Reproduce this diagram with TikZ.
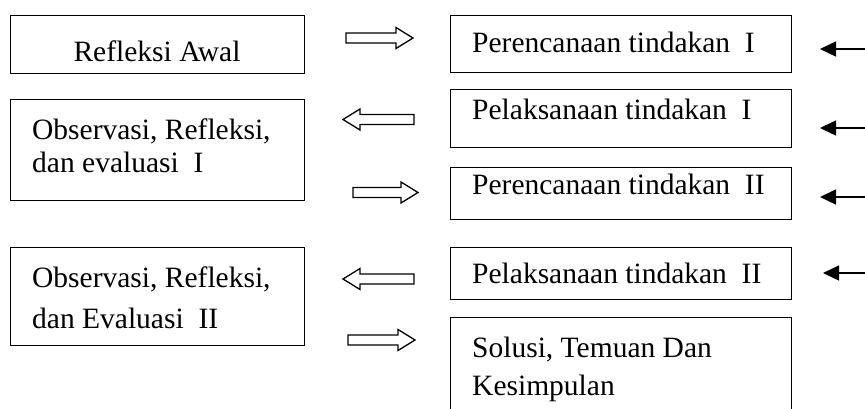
\documentclass[tikz,border=0pt]{standalone}
\usepackage{fontspec}
\setmainfont{Liberation Serif}
\usetikzlibrary{arrows.meta}
\tikzset{
  box/.style={draw, line width=1.2pt, inner sep=0pt, anchor=north west},
  txt/.style={inner sep=0pt, anchor=base west, font=\fontsize{29.5}{32}\selectfont},
  txtc/.style={inner sep=0pt, anchor=base, font=\fontsize{29.5}{32}\selectfont},
  blackarrow/.style={line width=1.5pt, -{Triangle[length=16pt,width=15pt]}},
  harrowR/.pic={\draw[line width=1.3pt, line join=miter]
     (0,-5) -- ({#1-17},-5) -- ({#1-17},-10.5) -- (#1,0) -- ({#1-17},10.5) -- ({#1-17},5) -- (0,5) -- cycle;},
  harrowL/.pic={\draw[line width=1.3pt, line join=miter]
     (0,-5) -- ({-#1+17},-5) -- ({-#1+17},-10.5) -- (-#1,0) -- ({-#1+17},10.5) -- ({-#1+17},5) -- (0,5) -- cycle;}
}
\begin{document}
\begin{tikzpicture}[x=1pt,y=-1pt]
\clip (0,0) rectangle (865,409);
\fill[white] (0,0) rectangle (865,409);

% left boxes
\node[box, minimum width=294pt, minimum height=58pt] (l1) at (10,15) {};
\node[txtc] (l1t) at (157,62) {Refleksi Awal};

\node[box, minimum width=294pt, minimum height=101pt] (l2) at (10,99) {};
\node[txt] (l2a) at (32,140) {Observasi, Refleksi,};
\node[txt] (l2b) at (32,172) {dan evaluasi~~I};

\node[box, minimum width=294pt, minimum height=98pt] (l3) at (10,247) {};
\node[txt] (l3a) at (32,287) {Observasi, Refleksi,};
\node[txt] (l3b) at (32,328) {dan Evaluasi~~II};

% right boxes
\node[box, minimum width=341pt, minimum height=57pt] (ra) at (450,15) {};
\node[txt] (rat) at (472,53) {Perencanaan tindakan~~I};

\node[box, minimum width=341pt, minimum height=58pt] (rb) at (450,89) {};
\node[txt] (rbt) at (472,120) {Pelaksanaan tindakan~~I};

\node[box, minimum width=341pt, minimum height=52pt] (rc) at (450,167) {};
\node[txt] (rct) at (472,194) {Perencanaan tindakan~~II};

\node[box, minimum width=341pt, minimum height=52pt] (rd) at (450,247) {};
\node[txt] (rdt) at (472,283) {Pelaksanaan tindakan~~II};

\node[box, minimum width=341pt, minimum height=100pt] (re) at (450,317) {};
\node[txt] (rea) at (472,357) {Solusi, Temuan Dan};
\node[txt] (reb) at (472,395) {Kesimpulan};

% hollow arrows
\pic at (346,38) {harrowR=67};
\pic at (414,119.5) {harrowL=71};
\pic at (353,192.5) {harrowR=65};
\pic at (414,279) {harrowL=71};
\pic at (348,340) {harrowR=67};

% black arrows from the right edge
\coordinate (s1) at (870,49);  \coordinate (t1) at (820,49);
\coordinate (s2) at (870,128); \coordinate (t2) at (820,128);
\coordinate (s3) at (870,197); \coordinate (t3) at (820,197);
\coordinate (s4) at (870,273); \coordinate (t4) at (823,273);
\draw[blackarrow] (s1) -- (t1);
\draw[blackarrow] (s2) -- (t2);
\draw[blackarrow] (s3) -- (t3);
\draw[blackarrow] (s4) -- (t4);
\end{tikzpicture}
\end{document}
